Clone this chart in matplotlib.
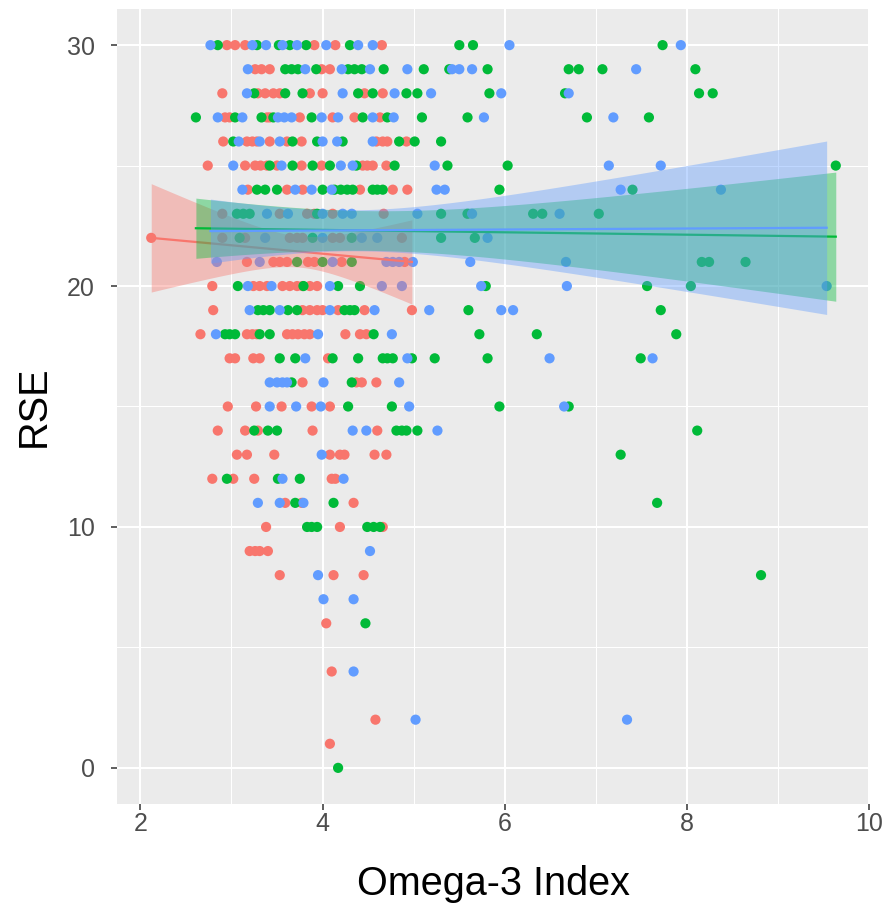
import numpy as np
import matplotlib
matplotlib.use("Agg")
import matplotlib.pyplot as plt
from matplotlib.ticker import FixedLocator

plt.rcParams['font.family'] = ['Liberation Sans', 'DejaVu Sans']

# (Omega-3 Index, RSE) per group
red_pts = [
    (2.95, 30), (3.04, 30), (3.15, 30), (3.91, 30), (4.14, 30), (4.65, 30),
    (3.26, 29), (3.33, 29), (3.42, 29), (3.99, 29), (4.08, 29),
    (2.90, 28), (3.29, 28), (3.37, 28), (3.46, 28), (3.53, 28), (3.86, 28), (4.00, 28), (4.46, 28), (4.66, 28),
    (2.93, 27), (2.98, 27), (3.39, 27), (3.42, 27), (3.75, 27), (4.11, 27), (4.35, 27), (4.63, 27),
    (2.91, 26), (3.17, 26), (3.23, 26), (3.28, 26), (3.42, 26), (3.61, 26), (3.77, 26), (4.59, 26), (4.66, 26), (4.71, 26), (4.92, 26),
    (2.74, 25), (3.15, 25), (3.26, 25), (3.32, 25), (3.39, 25), (3.50, 25), (3.77, 25), (3.99, 25), (4.44, 25), (4.49, 25), (4.55, 25), (4.70, 25),
    (3.18, 24), (3.61, 24), (3.78, 24), (4.41, 24), (4.77, 24), (4.93, 24),
    (2.90, 23), (3.53, 23), (3.83, 23), (3.91, 23), (4.11, 23), (4.67, 23),
    (2.12, 22), (2.90, 22), (3.15, 22), (3.64, 22), (3.72, 22), (3.78, 22), (4.11, 22), (4.19, 22), (4.87, 22),
    (3.17, 21), (3.46, 21), (3.53, 21), (3.61, 21), (3.84, 21), (3.91, 21), (4.21, 21), (4.90, 21),
    (2.79, 20), (3.24, 20), (3.31, 20), (3.39, 20), (3.56, 20), (3.64, 20), (3.72, 20), (3.78, 20), (3.86, 20), (3.94, 20),
    (2.80, 19), (3.78, 19), (3.86, 19), (3.94, 19), (4.00, 19), (4.17, 19), (4.46, 19), (4.98, 19),
    (2.66, 18), (3.17, 18), (3.23, 18), (3.28, 18), (3.61, 18), (3.67, 18), (3.73, 18), (3.80, 18), (3.86, 18), (4.25, 18), (4.41, 18), (4.48, 18),
    (2.98, 17), (3.04, 17), (3.24, 17), (3.31, 17), (4.06, 17),
    (3.78, 16), (4.37, 16), (4.43, 16), (4.59, 16),
    (2.96, 15), (3.27, 15), (3.55, 15), (3.88, 15), (4.08, 15),
    (2.85, 14), (3.15, 14), (3.29, 14), (3.89, 14), (4.60, 14),
    (3.06, 13), (3.17, 13), (3.47, 13), (4.08, 13), (4.19, 13), (4.24, 13), (4.57, 13), (4.70, 13),
    (2.79, 12), (3.02, 12), (3.25, 12), (4.10, 12), (4.14, 12),
    (3.59, 11), (3.77, 11), (4.34, 11),
    (3.38, 10), (4.19, 10), (4.66, 10),
    (3.20, 9), (3.26, 9), (3.31, 9), (3.40, 9),
    (3.53, 8), (4.12, 8), (4.45, 8),
    (4.04, 6), (4.10, 4), (4.58, 2), (4.08, 1),
]

green_pts = [
    (2.85, 30), (3.28, 30), (3.52, 30), (3.64, 30), (3.82, 30), (4.30, 30), (5.50, 30), (5.65, 30), (7.73, 30),
    (3.59, 29), (3.66, 29), (3.73, 29), (3.93, 29), (4.28, 29), (4.35, 29), (4.43, 29), (4.67, 29), (5.11, 29), (5.39, 29), (5.81, 29), (6.70, 29), (6.81, 29), (7.07, 29), (8.09, 29),
    (3.25, 28), (3.59, 28), (3.78, 28), (4.39, 28), (4.55, 28), (4.92, 28), (5.04, 28), (5.83, 28), (6.66, 28), (8.13, 28), (8.28, 28),
    (2.61, 27), (3.04, 27), (3.33, 27), (3.46, 27), (3.88, 27), (4.44, 27), (4.71, 27), (5.09, 27), (5.59, 27), (6.90, 27), (7.58, 27),
    (3.02, 26), (3.67, 26), (3.94, 26), (4.22, 26), (4.84, 26), (5.01, 26), (5.30, 26),
    (3.42, 25), (3.67, 25), (3.89, 25), (4.08, 25), (4.37, 25), (4.79, 25), (5.37, 25), (6.03, 25), (9.63, 25),
    (3.28, 24), (3.37, 24), (3.50, 24), (4.00, 24), (4.13, 24), (4.20, 24), (4.27, 24), (4.33, 24), (4.55, 24), (4.60, 24), (4.66, 24), (5.94, 24), (7.40, 24),
    (3.06, 23), (3.13, 23), (3.20, 23), (3.94, 23), (5.30, 23), (5.59, 23), (6.31, 23), (6.41, 23), (7.03, 23),
    (3.09, 22), (3.89, 22), (4.32, 22), (5.30, 22), (5.67, 22),
    (3.72, 21), (4.00, 21), (4.32, 21), (8.16, 21), (8.24, 21), (8.64, 21),
    (3.07, 20), (3.79, 20), (4.17, 20), (4.41, 20), (5.79, 20), (7.56, 20), (8.04, 20),
    (3.29, 19), (3.35, 19), (3.42, 19), (3.62, 19), (3.72, 19), (4.24, 19), (4.30, 19), (4.35, 19), (5.60, 19), (7.71, 19),
    (2.93, 18), (2.98, 18), (3.04, 18), (3.31, 18), (3.42, 18), (4.56, 18), (5.72, 18), (6.35, 18), (7.88, 18),
    (3.53, 17), (3.70, 17), (4.11, 17), (4.39, 17), (4.66, 17), (4.71, 17), (4.77, 17), (4.98, 17), (5.23, 17), (5.81, 17), (7.49, 17),
    (3.66, 16), (4.32, 16),
    (4.28, 15), (4.76, 15), (5.94, 15), (6.70, 15),
    (3.25, 14), (3.40, 14), (3.50, 14), (4.81, 14), (4.87, 14), (4.92, 14), (5.04, 14), (8.11, 14),
    (7.27, 13),
    (2.95, 12), (3.51, 12), (3.75, 12),
    (3.70, 11), (4.12, 11), (7.67, 11),
    (3.83, 10), (3.88, 10), (3.94, 10), (4.49, 10), (4.56, 10), (4.63, 10),
    (8.81, 8), (4.47, 6), (4.17, 0),
]

blue_pts = [
    (2.77, 30), (3.23, 30), (3.38, 30), (3.56, 30), (3.72, 30), (4.04, 30), (4.39, 30), (4.55, 30), (6.05, 30), (7.93, 30),
    (3.18, 29), (3.81, 29), (4.21, 29), (4.52, 29), (4.93, 29), (5.42, 29), (5.50, 29), (5.64, 29), (7.44, 29),
    (3.17, 28), (4.22, 28), (4.79, 28), (5.19, 28), (5.96, 28), (6.70, 28),
    (2.85, 27), (3.12, 27), (3.51, 27), (3.58, 27), (3.66, 27), (3.99, 27), (4.17, 27), (4.55, 27), (4.78, 27), (5.77, 27), (7.19, 27),
    (3.08, 26), (3.31, 26), (3.53, 26), (4.00, 26), (4.16, 26), (4.55, 26),
    (3.02, 25), (3.55, 25), (4.20, 25), (4.33, 25), (5.23, 25), (7.14, 25), (7.71, 25),
    (3.12, 24), (3.70, 24), (3.88, 24), (4.10, 24), (5.25, 24), (5.34, 24), (7.27, 24), (8.37, 24),
    (3.39, 23), (3.62, 23), (4.00, 23), (4.22, 23), (4.32, 23), (5.04, 23), (5.64, 23), (6.60, 23),
    (3.37, 22), (4.00, 22), (4.43, 22), (4.60, 22), (5.81, 22),
    (2.84, 21), (3.31, 21), (4.11, 21), (4.70, 21), (4.77, 21), (4.84, 21), (4.99, 21), (5.62, 21), (6.67, 21),
    (3.18, 20), (3.44, 20), (4.08, 20), (4.65, 20), (4.87, 20), (5.74, 20), (6.68, 20), (9.53, 20),
    (3.20, 19), (3.53, 19), (4.08, 19), (4.57, 19), (5.17, 19), (5.96, 19), (6.09, 19),
    (2.83, 18), (3.95, 18), (4.76, 18),
    (3.81, 17), (4.93, 17), (6.49, 17), (7.62, 17),
    (3.42, 16), (3.50, 16), (3.56, 16), (3.61, 16), (4.01, 16), (4.84, 16),
    (3.42, 15), (3.71, 15), (3.98, 15), (4.95, 15), (6.65, 15),
    (4.33, 14), (4.48, 14), (5.26, 14),
    (3.99, 13),
    (3.56, 12), (4.23, 12),
    (3.29, 11), (3.53, 11), (3.79, 11),
    (4.52, 9), (3.95, 8), (4.01, 7), (4.34, 7), (4.34, 4), (5.02, 2), (7.34, 2),
]

# linear smoother: fitted RSE at the group's lowest / highest
# Omega-3 value, 95% CI half-width there, and Omega-3 value where the band is narrowest
fit_start = [22.0, 22.4, 22.28]
fit_end = [21.0, 22.05, 22.42]
ci_start = [2.25, 1.25, 1.33]
ci_end = [1.75, 2.68, 3.6]
ci_centre = [3.75, 4.5, 4.3]

group_colors = ["#F8766D", "#00BA38", "#619CFF"]
x_ticks = [2, 4, 6, 8, 10]
y_ticks = [0, 10, 20, 30]
x_label = "Omega-3 Index"
y_label = "RSE"

groups = [np.array(red_pts, dtype=float), np.array(green_pts, dtype=float), np.array(blue_pts, dtype=float)]


def smooth_band(x0, x1, f0, f1, w0, w1, xc, xs):
    fit = f0 + (f1 - f0) * (xs - x0) / (x1 - x0)
    d0, d1 = (x0 - xc) ** 2, (x1 - xc) ** 2
    k = (w0 ** 2 - w1 ** 2) / (d0 - d1)
    a = w0 ** 2 - k * d0
    w = np.sqrt(np.maximum(a + k * (xs - xc) ** 2, 0))
    return fit, fit - w, fit + w


fig = plt.figure(figsize=(8.9, 9.1), dpi=100)
ax = fig.add_axes([117 / 890, 1 - 804 / 910, (870 - 117) / 890, (804 - 9) / 910])
ax.set_facecolor('#EBEBEB')

allx = np.concatenate([g[:, 0] for g in groups])
ally = np.concatenate([g[:, 1] for g in groups])
xr = allx.max() - allx.min()
yr = ally.max() - ally.min()
ax.set_xlim(allx.min() - 0.05 * xr, allx.max() + 0.05 * xr)
ax.set_ylim(ally.min() - 0.05 * yr, ally.max() + 0.05 * yr)

ax.xaxis.set_major_locator(FixedLocator(x_ticks))
ax.yaxis.set_major_locator(FixedLocator(y_ticks))
ax.xaxis.set_minor_locator(FixedLocator([3, 5, 7, 9]))
ax.yaxis.set_minor_locator(FixedLocator([5, 15, 25]))
ax.grid(which='major', color='white', linewidth=1.5)
ax.grid(which='minor', color='white', linewidth=0.75)
ax.set_axisbelow(True)
for sp in ax.spines.values():
    sp.set_visible(False)

ax.tick_params(which='major', length=4, width=1.1, color='#333333',
               labelsize=18, labelcolor='#4D4D4D')
ax.tick_params(axis='y', which='major', pad=12)
ax.tick_params(axis='x', which='major', pad=1.5)
ax.tick_params(which='minor', length=0)

for g, c in zip(groups, group_colors):
    ax.scatter(g[:, 0], g[:, 1], s=54, color=c, edgecolors='none', zorder=2)

for i, (g, c) in enumerate(zip(groups, group_colors)):
    x = g[:, 0]
    xs = np.linspace(x.min(), x.max(), 120)
    fit, lo, hi = smooth_band(x.min(), x.max(), fit_start[i], fit_end[i],
                              ci_start[i], ci_end[i], ci_centre[i], xs)
    ax.fill_between(xs, lo, hi, color=c, alpha=0.4, linewidth=0, zorder=3)
    ax.plot(xs, fit, color=c, linewidth=1.6, zorder=3)

ax.set_xlabel(x_label, fontsize=28.5, color='black', labelpad=21)
ax.set_ylabel(y_label, fontsize=28.5, color='black', labelpad=10)

fig.savefig('out.png', dpi=100, facecolor='white')
